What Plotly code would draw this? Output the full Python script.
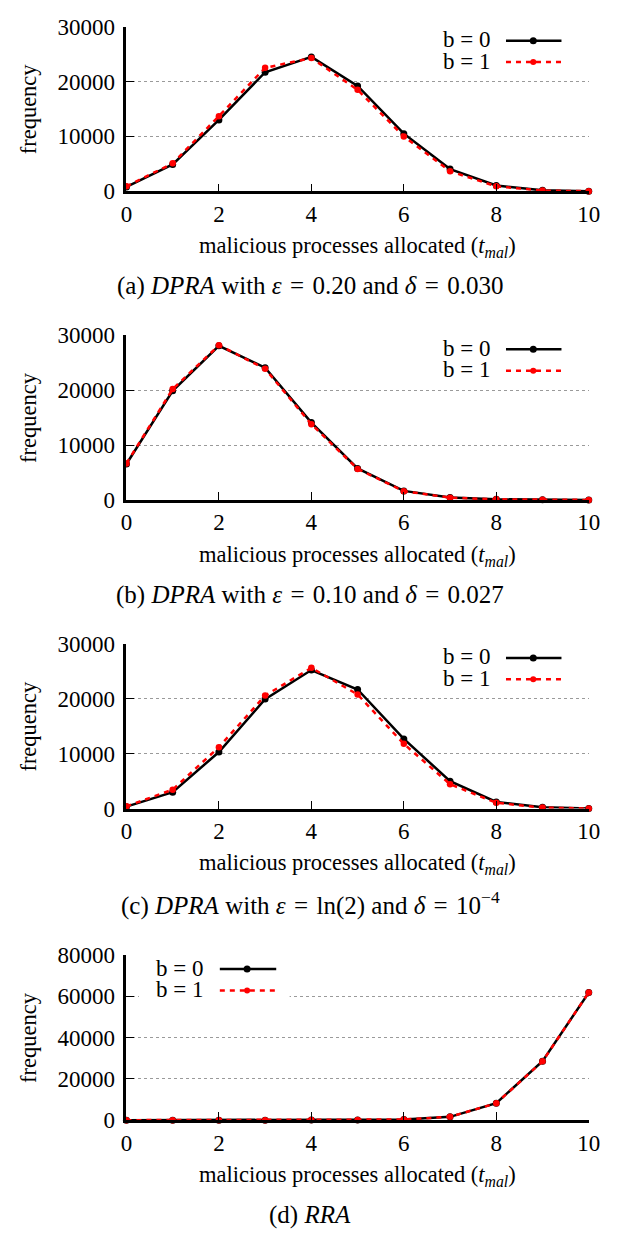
import plotly.graph_objects as go

# ---------------- data ----------------
t_mal = [0, 1, 2, 3, 4, 5, 6, 7, 8, 9, 10]
x_ticks = [0, 2, 4, 6, 8, 10]

a_b0 = [800, 4900, 13000, 21700, 24500, 19200, 10500, 4050, 1050, 200, 30]
a_b1 = [900, 5100, 13700, 22500, 24300, 18500, 10000, 3650, 900, 130, 20]
b_b0 = [6550, 19900, 28100, 24100, 14100, 5750, 1650, 450, 120, 20, 5]
b_b1 = [6650, 20200, 28200, 23900, 13800, 5650, 1600, 420, 110, 15, 5]
c_b0 = [350, 3000, 10300, 19950, 25250, 21700, 12700, 5000, 1200, 250, 20]
c_b1 = [420, 3450, 11200, 20600, 25650, 20800, 11800, 4450, 1050, 180, 20]
d_b0 = [0, 0, 0, 5, 20, 80, 300, 1600, 8250, 28600, 61800]
d_b1 = [0, 0, 0, 5, 20, 80, 310, 1620, 8200, 28500, 61900]

series_names = ["b = 0", "b = 1"]
y_max = [30000, 30000, 30000, 80000]
y_step = [10000, 10000, 10000, 20000]
SP = "\u2004"
captions = [
    f"(a) <i>DPRA</i> with <i>ε</i>{SP}={SP}0.20 and <i>δ</i>{SP}={SP}0.030",
    f"(b) <i>DPRA</i> with <i>ε</i>{SP}={SP}0.10 and <i>δ</i>{SP}={SP}0.027",
    f"(c) <i>DPRA</i> with <i>ε</i>{SP}={SP}ln(2) and <i>δ</i>{SP}={SP}10<sup>−4</sup>",
    "(d) <i>RRA</i>",
]
x_title = "malicious processes allocated (<i>t</i><sub><i>mal</i></sub>)"
y_title = "frequency"

panels = [(a_b0, a_b1), (b_b0, b_b1), (c_b0, c_b1), (d_b0, d_b1)]

W, H = 626, 1238
X_L, X_R = 124, 600
tops = [15, 330, 645, 962.5]
bots = [183, 498, 813, 1131]
FONT = "Liberation Serif"
FS = 23

def py(p):
    return 1 - p / H

fig = go.Figure()
shapes = []
annotations = []

for i, (s0, s1) in enumerate(panels):
    n = "" if i == 0 else str(i + 1)
    xa, ya = "x" + n, "y" + n
    fig.add_trace(go.Scatter(
        x=t_mal, y=s0, name=series_names[0], mode="lines+markers",
        line=dict(color="black", width=2.5),
        marker=dict(color="black", size=7, symbol="circle"),
        xaxis=xa, yaxis=ya, showlegend=False, cliponaxis=False))
    fig.add_trace(go.Scatter(
        x=t_mal, y=s1, name=series_names[1], mode="lines+markers",
        line=dict(color="#ff0000", width=2.5, dash="5px,5px"),
        marker=dict(color="#ff0000", size=6.5, symbol="circle"),
        xaxis=xa, yaxis=ya, showlegend=False, cliponaxis=False))

    common_axis = dict(
        showline=True, linecolor="black", linewidth=2.5, mirror=False,
        ticks="inside", ticklen=8, tickwidth=1.2, tickcolor="black",
        zeroline=False,
        tickfont=dict(family=FONT, size=FS, color="black"),
    )
    fig.update_layout(**{
        ("xaxis" + n): dict(
            domain=[X_L / W, X_R / W], anchor=ya, range=[0, 10],
            tickmode="array", tickvals=x_ticks, showgrid=False,
            ticklabelstandoff=0, **common_axis),
        ("yaxis" + n): dict(
            domain=[py(bots[i]), py(tops[i])], anchor=xa,
            range=[0, y_max[i]], tickmode="linear", tick0=0, dtick=y_step[i],
            tickformat="d", showgrid=True, gridcolor="#9a9a9a", gridwidth=1,
            griddash="dot", ticklabelstandoff=4, **common_axis),
    })

    xd, yd = xa + " domain", ya + " domain"
    if i < 3:
        box = (0.645, 0.975)
        txt_r = 0.790
        ln = (0.821, 0.941)
        mk = 0.880
    else:
        box = (0.027, 0.353)
        txt_r = 0.170
        ln = (0.202, 0.324)
        mk = 0.261
    rows = (0.915, 0.785)
    shapes.append(dict(type="rect", xref=xd, yref=yd, x0=box[0], x1=box[1],
                       y0=0.70, y1=0.98, fillcolor="white",
                       line=dict(width=0), layer="above"))
    styles = [dict(color="black", width=2.5), dict(color="#ff0000", width=2.5, dash="5px,5px")]
    rad = [3.5, 3.0]
    mcol = ["black", "#ff0000"]
    for k in range(2):
        shapes.append(dict(type="line", xref=xd, yref=yd, x0=ln[0], x1=ln[1],
                           y0=rows[k], y1=rows[k], line=styles[k], layer="above"))
        shapes.append(dict(type="circle", xref=xd, yref=yd,
                           xsizemode="pixel", ysizemode="pixel",
                           xanchor=mk, yanchor=rows[k],
                           x0=-rad[k], x1=rad[k], y0=-rad[k], y1=rad[k],
                           fillcolor=mcol[k], line=dict(width=0), layer="above"))
        annotations.append(dict(text=series_names[k], xref=xd, yref=yd,
                                x=txt_r, y=rows[k], xanchor="right", yanchor="middle",
                                showarrow=False, yshift=1,
                                font=dict(family=FONT, size=23, color="black")))

    annotations.append(dict(text=x_title, xref="paper", yref="paper",
                            x=(X_L + X_R) / 2 / W, y=py(bots[i] + 57),
                            xanchor="center", yanchor="middle", showarrow=False,
                            font=dict(family=FONT, size=22.5, color="black")))
    annotations.append(dict(text=y_title, xref="paper", yref="paper",
                            x=23 / W, y=py((tops[i] + bots[i]) / 2),
                            xanchor="center", yanchor="middle", textangle=-90,
                            showarrow=False,
                            font=dict(family=FONT, size=22.5, color="black")))
    annotations.append(dict(text=captions[i], xref="paper", yref="paper",
                            x=313 / W, y=py(bots[i] + 97),
                            xanchor="center", yanchor="middle", showarrow=False,
                            font=dict(family=FONT, size=25, color="black")))

fig.update_layout(
    width=W, height=H, margin=dict(l=0, r=0, t=0, b=0),
    paper_bgcolor="white", plot_bgcolor="white",
    shapes=shapes, annotations=annotations, showlegend=False,
    font=dict(family=FONT, size=FS, color="black"),
)

fig.write_html(
    "out.html", config={"displayModeBar": False},
    post_script=("document.documentElement.style.margin='0px';"
                 "document.body.style.margin='0px';"
                 "document.body.style.padding='0px';"
                 "document.documentElement.style.overflow='hidden';"
                 "document.body.style.overflow='hidden';"))
